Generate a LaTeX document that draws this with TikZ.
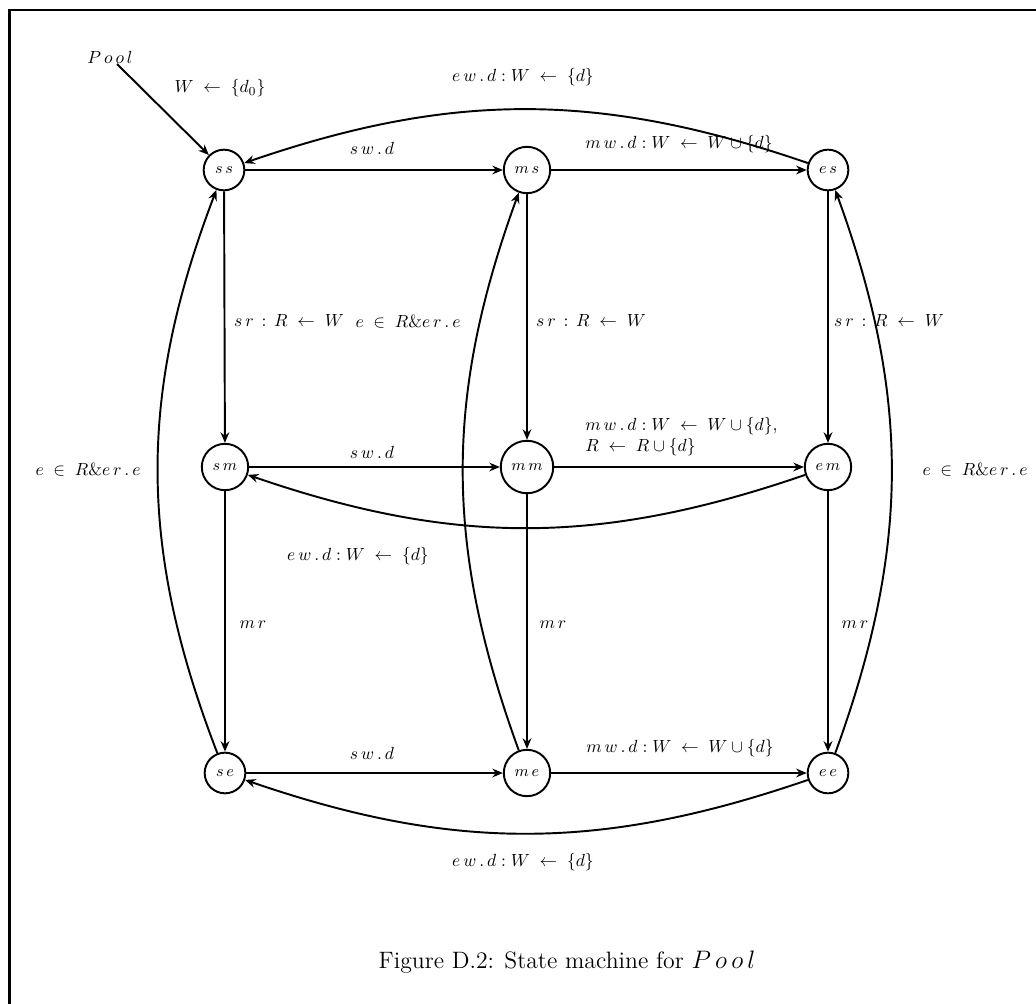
\documentclass[tikz,border=0pt]{standalone}
\usetikzlibrary{arrows.meta}
\begin{document}
\begin{tikzpicture}[x=0.02cm,y=-0.02cm,
  state/.style={circle,draw,line width=1.1pt,inner sep=0.16cm,minimum size=0.76cm,font=\fontsize{9.5}{11}\selectfont},
  tr/.style={-{Stealth[length=6pt,width=5pt,inset=2pt]},line width=1.1pt},
  lbl/.style={font=\fontsize{10}{12}\selectfont,inner sep=0pt}]
\useasboundingbox (0,0) rectangle (1036,1004);
\draw[line width=1.7pt] (9.5,1010) -- (9.5,10) -- (1040,10);

% states
\node[state] (ss) at (224,170) {$s\,s$};
\node[state] (ms) at (527,170) {$m\,s$};
\node[state] (es) at (828,170) {$e\,s$};
\node[state] (sm) at (225,467) {$s\,m$};
\node[state] (mm) at (527,467) {$m\,m$};
\node[state] (em) at (828,467) {$e\,m$};
\node[state] (se) at (225,773) {$s\,e$};
\node[state] (me) at (527,773) {$m\,e$};
\node[state] (ee) at (828,773) {$e\,e$};

% initial
\node[lbl] (pool) at (110,57) {$P\,o\,o\,l$};
\coordinate (pstart) at (117,64);
\draw[tr] (pstart) -- (ss);
\node[lbl] (init) at (220,88) {$W \;\leftarrow\; \{d_0\}$};

% horizontal
\draw[tr] (ss) -- (ms);
\draw[tr] (ms) -- (es);
\draw[tr] (sm) -- (mm);
\draw[tr] (mm) -- (em);
\draw[tr] (se) -- (me);
\draw[tr] (me) -- (ee);
% vertical
\draw[tr] (ss) -- (sm);
\draw[tr] (ms) -- (mm);
\draw[tr] (es) -- (em);
\draw[tr] (sm) -- (se);
\draw[tr] (mm) -- (me);
\draw[tr] (em) -- (ee);
% curved
\draw[tr] (es) to[bend right=19] (ss);
\draw[tr] (em) to[bend left=19] (sm);
\draw[tr] (ee) to[bend left=19] (se);
\draw[tr] (se) to[bend left=21] (ss);
\draw[tr] (me) to[bend left=20] (ms);
\draw[tr] (ee) to[bend right=20] (es);

% labels
\node[lbl] (l1) at (372,148) {$s\,w\,.\,d$};
\node[lbl] (l2) at (679,144) {$m\,w\,.\,d : W \;\leftarrow\; W \cup \{d\}$};
\node[lbl] (l3) at (523,77) {$e\,w\,.\,d : W \;\leftarrow\; \{d\}$};
\node[lbl] (l4) at (289,320) {$s\,r \,:\, R \;\leftarrow\; W$};
\node[lbl] (l5) at (591,320) {$s\,r \,:\, R \;\leftarrow\; W$};
\node[lbl] (l6) at (889,320) {$s\,r \,:\, R \;\leftarrow\; W$};
\node[lbl] (l7) at (408,322) {$e \;\in\; R \& e\,r\,.\,e$};
\node[lbl] (l8) at (372,452) {$s\,w\,.\,d$};
\node[lbl,anchor=west,align=left] (l9) at (585,437) {$m\,w\,.\,d : W \;\leftarrow\; W \cup \{d\}$,\\$R \;\leftarrow\; R \cup \{d\}$};
\node[lbl] (l10) at (358,556) {$e\,w\,.\,d : W \;\leftarrow\; \{d\}$};
\node[lbl] (l11) at (88,470) {$e \;\in\; R \& e\,r\,.\,e$};
\node[lbl] (l12) at (975,470) {$e \;\in\; R \& e\,r\,.\,e$};
\node[lbl] (l13) at (253,625) {$m\,r$};
\node[lbl] (l14) at (553,625) {$m\,r$};
\node[lbl] (l15) at (855,625) {$m\,r$};
\node[lbl] (l16) at (372,753) {$s\,w\,.\,d$};
\node[lbl] (l17) at (680,748) {$m\,w\,.\,d : W \;\leftarrow\; W \cup \{d\}$};
\node[lbl] (l18) at (523,862) {$e\,w\,.\,d : W \;\leftarrow\; \{d\}$};

\node[font=\fontsize{13.5}{16}\selectfont] (cap) at (567,962) {Figure D.2: State machine for $P\,o\,o\,l$};
\end{tikzpicture}
\end{document}
